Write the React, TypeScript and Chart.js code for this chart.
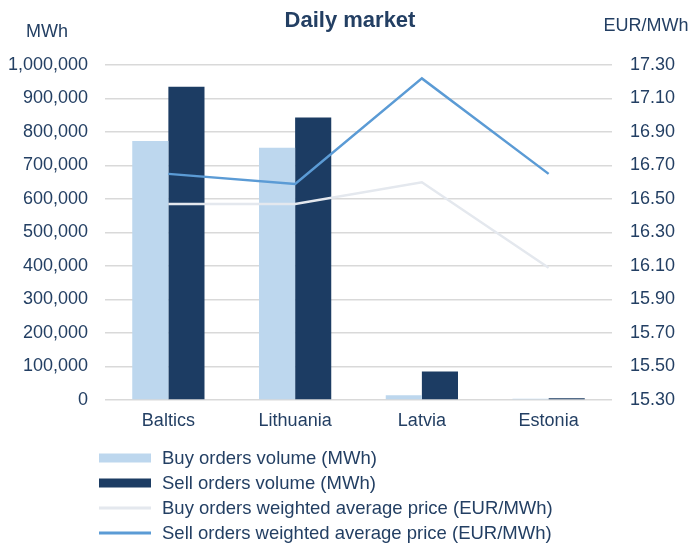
import React, { useEffect, useRef } from "react";
import { Chart, registerables } from "chart.js";

Chart.register(...registerables);

const categories = ["Baltics", "Lithuania", "Latvia", "Estonia"];
const buyVolume = [773000, 753000, 14000, 4000];
const sellVolume = [935000, 843000, 85000, 5000];
const buyPrice = [16.47, 16.47, 16.6, 16.09];
const sellPrice = [16.65, 16.59, 17.22, 16.65];

const seriesLabels = [
  "Buy orders volume (MWh)",
  "Sell orders volume (MWh)",
  "Buy orders weighted average price (EUR/MWh)",
  "Sell orders weighted average price (EUR/MWh)",
];
const titleText = "Daily market";
const leftUnit = "MWh";
const rightUnit = "EUR/MWh";

const TEXT = "#233F63";
const FONT = "'Liberation Sans', Arial, sans-serif";

const overlayPlugin = {
  id: "overlay",
  afterDraw(chart: any) {
    const ctx = chart.ctx;
    ctx.save();
    ctx.fillStyle = TEXT;
    ctx.textBaseline = "alphabetic";
    ctx.textAlign = "center";
    ctx.font = `bold 22px ${FONT}`;
    ctx.fillText(titleText, 350, 27);
    ctx.font = `18px ${FONT}`;
    ctx.fillText(leftUnit, 47, 37);
    ctx.fillText(rightUnit, 646, 31);

    // legend
    const rows = [458, 483, 508, 533];
    chart.data.datasets.forEach((ds: any, i: number) => {
      const y = rows[i];
      if (ds.type === "line") {
        ctx.strokeStyle = ds.borderColor;
        ctx.lineWidth = 3;
        ctx.beginPath();
        ctx.moveTo(99, y);
        ctx.lineTo(151, y);
        ctx.stroke();
      } else {
        ctx.fillStyle = ds.backgroundColor;
        ctx.fillRect(99, y - 4.5, 52, 9);
      }
      ctx.fillStyle = TEXT;
      ctx.textAlign = "left";
      ctx.textBaseline = "middle";
      ctx.font = `18.5px ${FONT}`;
      ctx.fillText(ds.label, 162, y + 1);
    });
    ctx.restore();
  },
};

export default function App() {
  const ref = useRef<HTMLCanvasElement | null>(null);
  useEffect(() => {
    if (!ref.current) return;
    const chart = new Chart(ref.current, {
      type: "bar",
      data: {
        labels: categories,
        datasets: [
          {
            type: "bar",
            label: seriesLabels[0],
            data: buyVolume,
            backgroundColor: "#BDD7EE",
            yAxisID: "y",
            order: 2,
            categoryPercentage: 0.57,
            barPercentage: 1.0,
          },
          {
            type: "bar",
            label: seriesLabels[1],
            data: sellVolume,
            backgroundColor: "#1C3C63",
            yAxisID: "y",
            order: 2,
            categoryPercentage: 0.57,
            barPercentage: 1.0,
          },
          {
            type: "line",
            label: seriesLabels[2],
            data: buyPrice,
            borderColor: "#E4E8EE",
            backgroundColor: "#E4E8EE",
            borderWidth: 2.5,
            pointRadius: 0,
            tension: 0,
            yAxisID: "y2",
            order: 1,
          },
          {
            type: "line",
            label: seriesLabels[3],
            data: sellPrice,
            borderColor: "#5B9BD5",
            backgroundColor: "#5B9BD5",
            borderWidth: 2.5,
            pointRadius: 0,
            tension: 0,
            yAxisID: "y2",
            order: 1,
          },
        ] as any,
      },
      options: {
        responsive: false,
        animation: false,
        layout: { padding: { top: 65, left: 0, right: 0, bottom: 0 } },
        plugins: {
          legend: { display: false },
          title: { display: false },
          tooltip: { enabled: false },
        },
        scales: {
          x: {
            grid: { display: false, drawTicks: false },
            border: { display: false },
            ticks: { color: TEXT, font: { family: FONT, size: 18 }, padding: 10 },
            afterFit: (s: any) => {
              s.height = 143;
            },
          },
          y: {
            position: "left",
            min: 0,
            max: 1000000,
            ticks: {
              stepSize: 100000,
              color: TEXT,
              font: { family: FONT, size: 18 },
              padding: 17,
              callback: (v: any) => Number(v).toLocaleString("en-US"),
            },
            grid: { color: "#D9D9D9", lineWidth: 1.5, drawTicks: false },
            border: { display: false },
            afterFit: (s: any) => {
              s.width = 105;
            },
          },
          y2: {
            position: "right",
            min: 15.3,
            max: 17.3,
            ticks: {
              stepSize: 0.2,
              color: TEXT,
              font: { family: FONT, size: 18 },
              padding: 18,
              callback: (v: any) => Number(v).toFixed(2),
            },
            grid: { display: false, drawTicks: false },
            border: { display: false },
            afterFit: (s: any) => {
              s.width = 79;
            },
          },
        },
      } as any,
      plugins: [overlayPlugin],
    });
    return () => chart.destroy();
  }, []);
  return (
    <div style={{ position: "fixed", left: 0, top: 0, width: 691, height: 543, background: "#fff" }}>
      <canvas ref={ref} width={691} height={543} style={{ display: "block" }} />
    </div>
  );
}
